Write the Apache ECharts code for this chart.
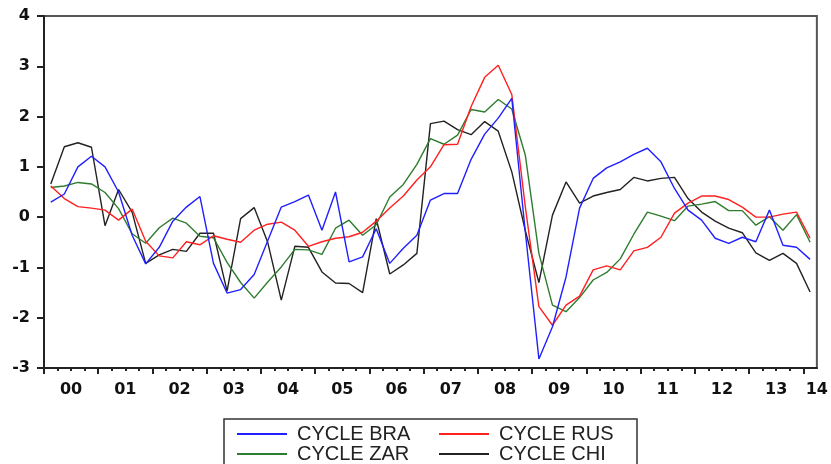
<!DOCTYPE html>
<html>
<head>
<meta charset="utf-8">
<style>
  html, body { margin: 0; padding: 0; background: #fff; }
  #chart { width: 831px; height: 464px; }
</style>
<script src="https://cdn.jsdelivr.net/npm/echarts@6/dist/echarts.min.js"></script>
</head>
<body>
<div id="chart"></div>
<script>
// quarterly cycles, 2000Q1 .. 2014Q1 (57 quarters)
var seriesNames = ['CYCLE BRA', 'CYCLE RUS', 'CYCLE ZAR', 'CYCLE CHI'];
var seriesColors = ['#2020ff', '#ff2020', '#2e7d2e', '#222222'];

var cycleBRA = [0.30, 0.46, 1.00, 1.21, 1.00, 0.50, -0.36, -0.93, -0.60, -0.08,
  0.20, 0.41, -0.92, -1.51, -1.44, -1.14, -0.47, 0.20, 0.31, 0.44,
  -0.26, 0.50, -0.89, -0.79, -0.23, -0.92, -0.62, -0.36, 0.34, 0.47,
  0.47, 1.15, 1.65, 1.97, 2.36, -0.30, -2.82, -2.18, -1.19, 0.18,
  0.77, 0.98, 1.10, 1.25, 1.37, 1.10, 0.57, 0.14, -0.06, -0.42,
  -0.52, -0.40, -0.49, 0.14, -0.56, -0.60, -0.84];

var cycleRUS = [0.62, 0.37, 0.21, 0.18, 0.14, -0.06, 0.16, -0.48, -0.77, -0.81,
  -0.49, -0.55, -0.37, -0.44, -0.50, -0.26, -0.14, -0.10, -0.26, -0.58,
  -0.49, -0.42, -0.39, -0.30, -0.08, 0.18, 0.42, 0.74, 1.00, 1.44,
  1.45, 2.20, 2.78, 3.02, 2.44, 0.20, -1.78, -2.15, -1.75, -1.57,
  -1.05, -0.97, -1.05, -0.67, -0.60, -0.40, 0.08, 0.28, 0.42, 0.42,
  0.35, 0.20, 0.00, 0.00, 0.06, 0.10, -0.42];

var cycleZAR = [0.59, 0.62, 0.69, 0.66, 0.49, 0.17, -0.33, -0.52, -0.21, -0.02,
  -0.12, -0.38, -0.41, -0.90, -1.30, -1.61, -1.29, -0.99, -0.64, -0.65,
  -0.74, -0.22, -0.06, -0.36, -0.15, 0.40, 0.65, 1.05, 1.56, 1.45,
  1.63, 2.14, 2.09, 2.34, 2.15, 1.23, -0.72, -1.75, -1.88, -1.60,
  -1.25, -1.10, -0.83, -0.34, 0.10, 0.02, -0.07, 0.22, 0.26, 0.31,
  0.13, 0.13, -0.16, 0.01, -0.26, 0.05, -0.50];

var cycleCHI = [0.66, 1.40, 1.48, 1.39, -0.17, 0.55, 0.10, -0.92, -0.75, -0.64,
  -0.68, -0.32, -0.32, -1.47, -0.03, 0.19, -0.50, -1.65, -0.58, -0.60,
  -1.09, -1.31, -1.32, -1.50, -0.03, -1.13, -0.95, -0.72, 1.86, 1.91,
  1.74, 1.64, 1.90, 1.71, 0.90, -0.27, -1.30, 0.04, 0.70, 0.28,
  0.42, 0.49, 0.55, 0.79, 0.72, 0.77, 0.79, 0.37, 0.10, -0.08,
  -0.22, -0.31, -0.71, -0.86, -0.72, -0.92, -1.49];

var nQuarters = 57;
var firstYear = 0; // '00'

// year boundaries (major ticks), quarter ticks (minor), year label positions
var yearTicks = [];
var quarterTicks = [];
var yearLabelPos = [];
for (var q = 0; q < nQuarters; q++) {
  if (q % 4 === 0) yearTicks.push(q); else quarterTicks.push(q);
  if (q % 4 === 2) yearLabelPos.push(q);
}
yearLabelPos.push(nQuarters); // partial year '14' at the right edge

function toPoints(arr) {
  return arr.map(function(v, i) { return [i + 0.5, v]; });
}

var allData = [cycleBRA, cycleRUS, cycleZAR, cycleCHI];
var labelFont = { color: '#111', fontFamily: 'DejaVu Sans', fontWeight: 'bold', fontSize: 16 };
var legendText = { fontFamily: 'Liberation Sans', fontSize: 20, lineHeight: 19, color: '#222', padding: [0, 0, 0, 5] };

var chart = echarts.init(document.getElementById('chart'), null, { renderer: 'canvas' });
chart.setOption({
  animation: false,
  backgroundColor: '#fff',
  grid: {
    left: 44, right: 13, top: 16, bottom: 96,
    show: true, borderColor: '#555', borderWidth: 2
  },
  xAxis: [{
    type: 'value',
    min: 0, max: nQuarters,
    axisLine: { show: true, onZero: false, lineStyle: { color: '#222', width: 2 } },
    axisTick: { show: true, inside: false, length: 6, customValues: yearTicks, lineStyle: { color: '#222', width: 2 } },
    axisLabel: Object.assign({
      margin: 14,
      customValues: yearLabelPos,
      formatter: function(v) {
        var y = firstYear + Math.floor(v / 4);
        return (y < 10 ? '0' : '') + y;
      }
    }, labelFont),
    splitLine: { show: false }
  }, {
    type: 'value',
    position: 'bottom',
    min: 0, max: nQuarters,
    axisLine: { show: false, onZero: false },
    axisTick: { show: true, inside: false, length: 3, customValues: quarterTicks, lineStyle: { color: '#222', width: 2 } },
    axisLabel: { show: false },
    splitLine: { show: false }
  }],
  yAxis: {
    type: 'value',
    min: -3, max: 4, interval: 1,
    axisLine: { show: true, onZero: false, lineStyle: { color: '#222', width: 2 } },
    axisTick: { show: true, inside: false, length: 7, lineStyle: { color: '#222', width: 2 } },
    axisLabel: Object.assign({ margin: 14 }, labelFont),
    splitLine: { show: false }
  },
  legend: [{
    orient: 'vertical',
    left: 237, top: 424, padding: 0, height: 40,
    data: [seriesNames[0], seriesNames[2]],
    icon: 'rect', itemWidth: 50, itemHeight: 2, itemGap: 0,
    textStyle: legendText
  }, {
    orient: 'vertical',
    left: 439, top: 424, padding: 0, height: 40,
    data: [seriesNames[1], seriesNames[3]],
    icon: 'rect', itemWidth: 50, itemHeight: 2, itemGap: 0,
    textStyle: legendText
  }],
  graphic: [{
    type: 'rect',
    shape: { x: 224, y: 419, width: 413, height: 60 },
    style: { fill: 'none', stroke: '#333', lineWidth: 1.5 },
    silent: true
  }],
  series: allData.map(function(arr, k) {
    return {
      name: seriesNames[k],
      type: 'line',
      xAxisIndex: 0,
      data: toPoints(arr),
      showSymbol: false,
      symbol: 'none',
      color: seriesColors[k],
      lineStyle: { width: 1.4, color: seriesColors[k] },
      z: 10 - k
    };
  })
});
</script>
</body>
</html>
